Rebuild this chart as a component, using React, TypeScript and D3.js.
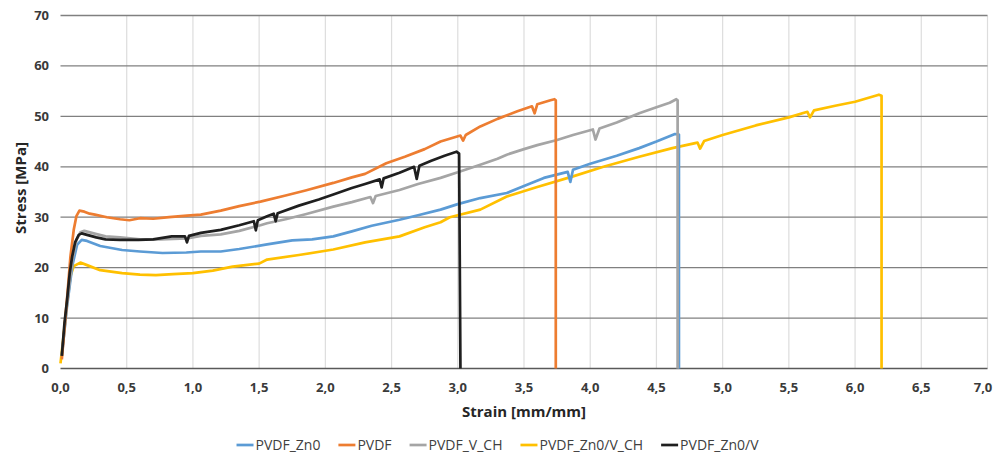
import React, { useRef, useEffect } from "react";
import * as d3 from "d3";

// series names and colours (legend order)
const seriesNames = ["PVDF_Zn0", "PVDF", "PVDF_V_CH", "PVDF_Zn0/V_CH", "PVDF_Zn0/V"];
const seriesColors = ["#5B9BD5", "#ED7D31", "#A5A5A5", "#FFC000", "#1F1F1F"];

// [strain, stress]
const pvdfZn0: [number, number][] = [
  [0.01, 2.5], [0.05, 12.5], [0.09, 20.5], [0.125, 24.5], [0.16, 25.5], [0.2, 25.3], [0.3, 24.3],
  [0.465, 23.5], [0.6, 23.2], [0.77, 22.9], [0.95, 23.0], [1.06, 23.2], [1.21, 23.2], [1.35, 23.7],
  [1.56, 24.6], [1.75, 25.4], [1.9, 25.6], [2.06, 26.2], [2.2, 27.2], [2.35, 28.3], [2.56, 29.5],
  [2.7, 30.4], [2.87, 31.5], [3.0, 32.6], [3.17, 33.8], [3.37, 34.8], [3.5, 36.2], [3.65, 37.8],
  [3.83, 39.0], [3.85, 37.0], [3.87, 39.4], [4.0, 40.6], [4.2, 42.2], [4.37, 43.7], [4.5, 45.0],
  [4.64, 46.5], [4.67, 46.4], [4.67, 0],
];
const pvdf: [number, number][] = [
  [0.01, 1.8], [0.03, 8], [0.05, 14], [0.075, 22.2], [0.1, 27.5], [0.12, 30.2], [0.143, 31.3],
  [0.18, 31.1], [0.22, 30.7], [0.26, 30.5], [0.35, 30.0], [0.45, 29.6], [0.52, 29.4], [0.6, 29.8],
  [0.7, 29.7], [0.82, 30.0], [0.955, 30.3], [1.06, 30.5], [1.21, 31.3], [1.35, 32.2], [1.51, 33.1],
  [1.7, 34.3], [1.85, 35.3], [2.06, 36.8], [2.2, 37.9], [2.3, 38.6], [2.46, 40.7], [2.6, 42.0],
  [2.75, 43.5], [2.87, 45.0], [3.02, 46.2], [3.04, 45.2], [3.06, 46.3], [3.17, 48.0], [3.3, 49.5],
  [3.45, 51.0], [3.56, 52.0], [3.58, 50.6], [3.6, 52.4], [3.7, 53.2], [3.73, 53.4], [3.74, 53.2], [3.74, 0],
];
const pvdfVCH: [number, number][] = [
  [0.01, 2.5], [0.05, 13], [0.09, 21.5], [0.12, 25.5], [0.15, 27.0], [0.18, 27.3], [0.25, 26.8],
  [0.34, 26.2], [0.45, 26.0], [0.6, 25.6], [0.75, 25.6], [0.955, 25.8], [1.06, 26.3], [1.21, 26.6],
  [1.35, 27.3], [1.51, 28.4], [1.56, 28.8], [1.7, 29.6], [1.85, 30.6], [2.06, 32.1], [2.2, 33.0],
  [2.34, 34.0], [2.36, 32.8], [2.38, 34.2], [2.56, 35.4], [2.7, 36.6], [2.87, 37.8], [3.0, 38.9],
  [3.17, 40.4], [3.3, 41.6], [3.37, 42.4], [3.5, 43.5], [3.6, 44.3], [3.75, 45.3], [3.87, 46.3],
  [4.02, 47.4], [4.04, 45.4], [4.07, 47.6], [4.2, 48.8], [4.37, 50.6], [4.5, 51.8], [4.6, 52.7],
  [4.65, 53.4], [4.66, 53.2], [4.66, 0],
];
const pvdfZn0VCH: [number, number][] = [
  [0.0, 1], [0.02, 5.7], [0.05, 13], [0.075, 18.3], [0.1, 20.3], [0.15, 21.0], [0.2, 20.5],
  [0.3, 19.5], [0.465, 18.9], [0.6, 18.6], [0.72, 18.5], [0.85, 18.7], [1.0, 18.9], [1.15, 19.4],
  [1.3, 20.2], [1.5, 20.8], [1.56, 21.6], [1.8, 22.5], [2.06, 23.6], [2.3, 25.0], [2.56, 26.2],
  [2.75, 28.0], [2.87, 29.0], [2.94, 30.0], [3.17, 31.5], [3.37, 34.1], [3.6, 36.0], [3.87, 38.1],
  [4.1, 40.0], [4.37, 42.0], [4.62, 43.7], [4.81, 44.8], [4.83, 43.6], [4.86, 45.1], [5.0, 46.3],
  [5.25, 48.2], [5.5, 49.8], [5.64, 50.9], [5.66, 49.8], [5.69, 51.2], [5.85, 52.1], [6.0, 52.9],
  [6.18, 54.3], [6.2, 54.1], [6.2, 0],
];
const pvdfZn0V: [number, number][] = [
  [0.01, 2.5], [0.03, 9], [0.05, 13.7], [0.07, 19], [0.088, 22.2], [0.11, 25], [0.138, 26.5],
  [0.16, 26.8], [0.2, 26.5], [0.27, 26.0], [0.34, 25.6], [0.45, 25.5], [0.59, 25.5], [0.7, 25.6],
  [0.84, 26.2], [0.94, 26.2], [0.955, 25.0], [0.97, 26.3], [1.06, 26.9], [1.21, 27.5], [1.35, 28.4],
  [1.46, 29.2], [1.475, 27.4], [1.49, 29.4], [1.56, 30.2], [1.61, 30.7], [1.625, 29.2], [1.64, 30.8],
  [1.8, 32.3], [1.95, 33.5], [2.06, 34.5], [2.2, 35.8], [2.3, 36.6], [2.41, 37.5], [2.425, 35.9],
  [2.44, 37.7], [2.56, 38.8], [2.67, 40.0], [2.69, 37.6], [2.71, 40.2], [2.8, 41.2], [2.9, 42.2],
  [2.99, 43.0], [3.01, 42.6], [3.02, 0],
];
const seriesData = [pvdfZn0, pvdf, pvdfVCH, pvdfZn0VCH, pvdfZn0V];
// draw order: PVDF_Zn0/V on top of the others at the start
const drawOrder = [3, 0, 2, 1, 4];

const xTicks = [0, 0.5, 1, 1.5, 2, 2.5, 3, 3.5, 4, 4.5, 5, 5.5, 6, 6.5, 7];
const yTicks = [0, 10, 20, 30, 40, 50, 60, 70];

const W = 995, H = 453;
const FONT = "'Open Sans', 'Liberation Sans', sans-serif";

const drawChart = (elt: SVGSVGElement) => {
  const svg = d3.select(elt);
  svg.selectAll("*").remove();

  const x = d3.scaleLinear().domain([0, 7]).range([60.5, 987.5]);
  const y = d3.scaleLinear().domain([0, 70]).range([368.5, 15.5]);
  const fmt = (v: number) => d3.format(".1f")(v).replace(".", ",");

  // vertical grid
  svg.append("g").selectAll("line").data(xTicks.slice(1)).enter().append("line")
    .attr("x1", (d) => x(d)).attr("x2", (d) => x(d))
    .attr("y1", y(70)).attr("y2", y(0))
    .attr("stroke", "#DDDDDD").attr("stroke-width", 1.2);

  // horizontal grid
  svg.append("g").selectAll("line").data(yTicks.slice(1)).enter().append("line")
    .attr("x1", x(0)).attr("x2", x(7))
    .attr("y1", (d) => y(d)).attr("y2", (d) => y(d))
    .attr("stroke", "#808080").attr("stroke-width", 1.3);

  // x axis line
  svg.append("line")
    .attr("x1", x(0)).attr("x2", x(7)).attr("y1", y(0)).attr("y2", y(0))
    .attr("stroke", "#595959").attr("stroke-width", 1.3);

  // tick labels
  svg.append("g").selectAll("text").data(yTicks).enter().append("text")
    .attr("x", 49).attr("y", (d) => y(d) + 4.5)
    .attr("text-anchor", "end")
    .style("font-family", FONT).style("font-size", "13px").style("font-weight", "700")
    .style("fill", "#3A3A3A")
    .text((d) => d);

  svg.append("g").selectAll("text").data(xTicks).enter().append("text")
    .attr("x", (d) => Math.min(x(d), W - 12))
    .attr("y", 392)
    .attr("text-anchor", "middle")
    .style("font-family", FONT).style("font-size", "13px").style("font-weight", "700")
    .style("fill", "#3A3A3A")
    .text((d) => fmt(d));

  // axis titles
  svg.append("text")
    .attr("x", (x(0) + x(7)) / 2).attr("y", 417)
    .attr("text-anchor", "middle")
    .style("font-family", FONT).style("font-size", "15px").style("font-weight", "700")
    .style("fill", "#262626")
    .text("Strain [mm/mm]");

  svg.append("text")
    .attr("transform", "translate(26, 188) rotate(-90)")
    .attr("text-anchor", "middle")
    .style("font-family", FONT).style("font-size", "15px").style("font-weight", "700")
    .style("fill", "#262626")
    .text("Stress [MPa]");

  // curves
  const line = d3.line<[number, number]>().x((d) => x(d[0])).y((d) => y(d[1]));
  const curves = svg.append("g");
  drawOrder.forEach((i) => {
    curves.append("path")
      .attr("d", line(seriesData[i]))
      .attr("fill", "none")
      .attr("stroke", seriesColors[i])
      .attr("stroke-width", 2.7)
      .attr("stroke-linejoin", "round");
  });

  // legend, centred in the chart area
  const legend = svg.append("g");
  let cursor = 0;
  seriesNames.forEach((name, i) => {
    const g = legend.append("g").attr("transform", `translate(${cursor},0)`);
    g.append("line").attr("x1", 0).attr("x2", 17).attr("y1", 0).attr("y2", 0)
      .attr("stroke", seriesColors[i]).attr("stroke-width", 2.7);
    const t = g.append("text").attr("x", 19).attr("y", 5)
      .style("font-family", FONT).style("font-size", "14px")
      .style("fill", "#404040").text(name);
    const w = (t.node() as SVGTextElement).getComputedTextLength();
    cursor += 19 + w + 18;
  });
  const total = cursor - 18;
  legend.attr("transform", `translate(${(W - total) / 2},445)`);
};

const App = () => {
  const ref = useRef<SVGSVGElement>(null);
  useEffect(() => {
    if (ref.current) drawChart(ref.current);
  }, []);
  return (
    <svg
      ref={ref}
      width={W}
      height={H}
      style={{ position: "absolute", left: 0, top: 0, background: "#fff", display: "block" }}
    />
  );
};

export default App;
